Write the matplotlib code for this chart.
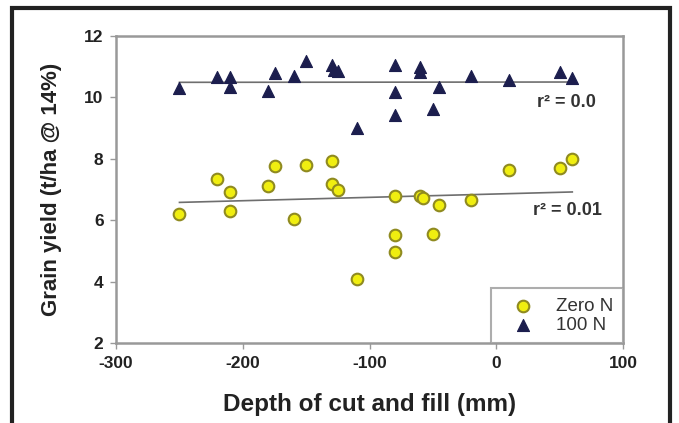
import matplotlib
matplotlib.use('Agg')
import matplotlib.pyplot as plt
from matplotlib.patches import Rectangle

plt.rcParams['font.family'] = ['Liberation Sans', 'DejaVu Sans']
plt.rcParams['axes.unicode_minus'] = False

# Zero N plots: depth of cut/fill (mm) vs grain yield (t/ha)
zero_x = [-250, -220, -210, -210, -180, -175, -160, -150, -130, -130, -125, -110,
          -80, -80, -80, -60, -58, -45, -50, -20, 10, 50, 60]
zero_y = [6.2, 7.35, 6.92, 6.3, 7.12, 7.75, 6.05, 7.8, 7.93, 7.18, 7.0, 4.1,
          6.8, 5.53, 4.98, 6.78, 6.72, 6.5, 5.55, 6.65, 7.62, 7.7, 8.0]

# 100 N plots
n100_x = [-250, -220, -210, -210, -180, -175, -160, -150, -130, -128, -125, -110,
          -80, -80, -80, -60, -60, -50, -45, -20, 10, 50, 60]
n100_y = [10.3, 10.65, 10.67, 10.33, 10.2, 10.8, 10.68, 11.2, 11.05, 10.9, 10.85, 9.0,
          11.05, 10.17, 9.42, 11.0, 10.83, 9.62, 10.35, 10.7, 10.55, 10.82, 10.63]

# linear trend lines
trend_x = [-250, 60]
zero_trend = [6.58, 6.92]
n100_trend = [10.49, 10.5]

x_ticks = [-300, -200, -100, 0, 100]
y_ticks = [2, 4, 6, 8, 10, 12]

fig = plt.figure(figsize=(6.79, 4.23), dpi=100)
ax = fig.add_axes([0.171, 0.189, 0.7465, 0.726])

ax.plot(trend_x, n100_trend, color='#6e6e6e', lw=1.2, zorder=1)
ax.plot(trend_x, zero_trend, color='#6e6e6e', lw=1.2, zorder=1)

ax.scatter(zero_x, zero_y, s=70, marker='o', facecolor='#f0ee10',
           edgecolor='#8f8a20', linewidth=1.5, label='Zero N', zorder=3)
ax.scatter(n100_x, n100_y, s=75, marker='^', facecolor='#1c1e4e',
           edgecolor='#1c1e4e', linewidth=0.8, label='100 N', zorder=3)

ax.text(32, 9.84, 'r² = 0.0', fontsize=13, fontweight='bold', color='#333333',
        va='center', ha='left')
ax.text(29, 6.32, 'r² = 0.01', fontsize=13, fontweight='bold', color='#333333',
        va='center', ha='left')

ax.set_xlim(-300, 100)
ax.set_ylim(2, 12)
ax.set_xticks(x_ticks)
ax.set_yticks(y_ticks)
ax.tick_params(direction='out', length=4, width=1, color='#999999', labelsize=12.5,
               labelcolor='#222222', pad=5)
for lab in ax.get_xticklabels() + ax.get_yticklabels():
    lab.set_fontweight('bold')
for sp in ax.spines.values():
    sp.set_color('#999999')
    sp.set_linewidth(1.8)

ax.set_xlabel('Depth of cut and fill (mm)', fontsize=17.5, fontweight='bold',
              color='#222222', labelpad=16)
ax.set_ylabel('Grain yield (t/ha @ 14%)', fontsize=16, fontweight='bold',
              color='#222222', labelpad=16)

leg = ax.legend(loc='lower right', bbox_to_anchor=(1.0, 0.0), fontsize=13.5,
                frameon=True, fancybox=False, borderpad=0.5, handletextpad=0.6,
                labelspacing=0.1, borderaxespad=0, handlelength=2.4)
leg.get_frame().set_edgecolor('#999999')
leg.get_frame().set_linewidth(1.5)
for t in leg.get_texts():
    t.set_color('#333333')

# dark border around the figure, open at the bottom
fig.add_artist(Rectangle((0.017, -0.05), 0.970, 1.031, transform=fig.transFigure,
                         fill=False, edgecolor='#222222', linewidth=3))

fig.savefig('out.png', dpi=100)
